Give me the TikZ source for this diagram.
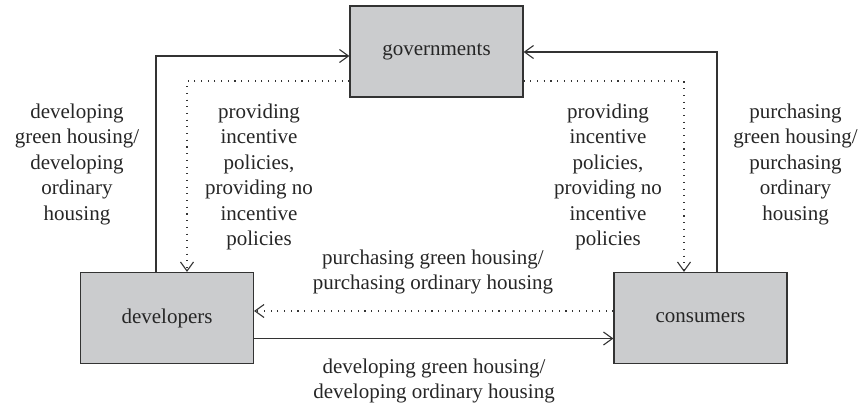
\documentclass[tikz,border=0pt]{standalone}
\usepackage{fontspec}
\setmainfont{Liberation Serif}
\usetikzlibrary{arrows.meta}
\definecolor{boxgray}{HTML}{CBCCCE}
\definecolor{linegray}{HTML}{333333}
\begin{document}
\begin{tikzpicture}[x=1pt,y=-1pt,
  box/.style={draw=linegray,line width=1.2pt,fill=boxgray,minimum width=173pt,minimum height=91pt,inner sep=0pt,font=\fontsize{21}{25.5}\selectfont,text=black!85},
  lbl/.style={align=center,inner sep=0pt,font=\fontsize{21}{25.5}\selectfont,text=black!85},
  tip/.style={-{Straight Barb[length=9pt,width=13pt,line width=1.1pt]}},
  solidc/.style={tip,draw=linegray,line width=1.1pt},
  dotc/.style={tip,draw=linegray,line width=1.1pt,dash pattern=on 1.1pt off 5.6pt}]
\useasboundingbox (0,0) rectangle (859,408);
\node[box] (gov) at (436.5,51.5) {governments};
\node[box] (dev) at (167,318) {developers};
\node[box] (con) at (700.5,318) {consumers};
\coordinate (lx) at (156,56);
\coordinate (rx) at (717,52);
\coordinate (ldx) at (187,81);
\coordinate (rdx) at (684,81);
\coordinate (hd) at (0,311);
\coordinate (hs) at (0,338.5);
% solid vertical connectors to governments
\draw[solidc] (dev.north -| lx) |- (gov.west |- lx);
\draw[solidc] (con.north -| rx) |- (gov.east |- rx);
% dotted from governments down
\draw[dotc] (gov.west |- ldx) -| (dev.north -| ldx);
\draw[dotc] (gov.east |- rdx) -| (con.north -| rdx);
% horizontal connectors
\draw[dotc] (con.west |- hd) -- (dev.east |- hd);
\draw[solidc] (dev.east |- hs) -- (con.west |- hs);
% labels
\node[lbl] (l1) at (77,164) {developing\\green housing/\\developing\\ordinary\\housing};
\node[lbl] (l2) at (259,177) {providing\\incentive\\policies,\\providing no\\incentive\\policies};
\node[lbl] (l3) at (608,177) {providing\\incentive\\policies,\\providing no\\incentive\\policies};
\node[lbl] (l4) at (795.5,164) {purchasing\\green housing/\\purchasing\\ordinary\\housing};
\node[lbl] (l5) at (433,272) {purchasing green housing/\\purchasing ordinary housing};
\node[lbl] (l6) at (434,381) {developing green housing/\\developing ordinary housing};
\end{tikzpicture}
\end{document}
